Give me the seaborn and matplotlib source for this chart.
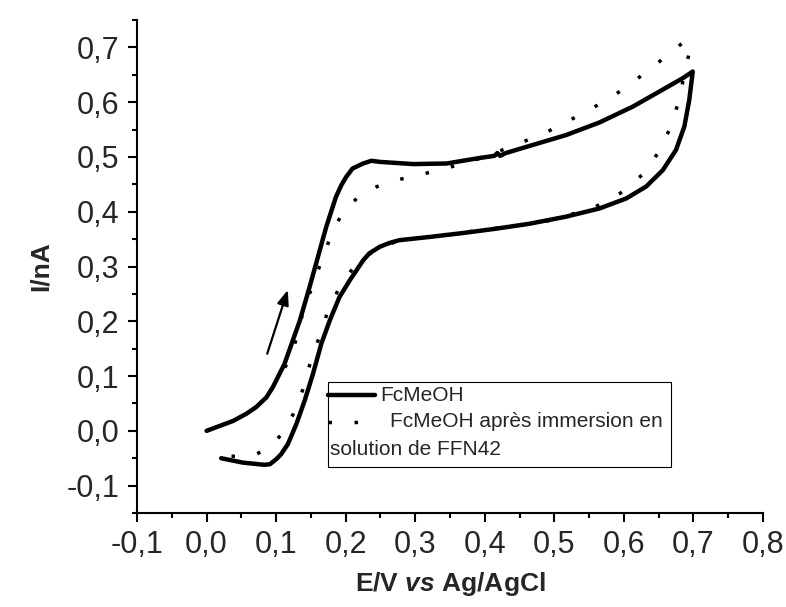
import matplotlib
matplotlib.use("Agg")
import matplotlib.pyplot as plt
import seaborn as sns
import pandas as pd
from matplotlib.patches import Rectangle
from matplotlib.ticker import FixedLocator, FuncFormatter

# FcMeOH, forward then reverse scan
solid_fwd_E = [0.000, 0.038, 0.057, 0.071, 0.086, 0.095, 0.112, 0.124, 0.134, 0.148, 0.160, 0.172, 0.186,
               0.194, 0.201, 0.210, 0.225, 0.237, 0.249, 0.297, 0.345, 0.392, 0.414, 0.418, 0.422, 0.430,
               0.464, 0.517, 0.565, 0.613, 0.656, 0.685, 0.699]
solid_fwd_I = [0.000, 0.018, 0.031, 0.043, 0.061, 0.079, 0.122, 0.165, 0.201, 0.262, 0.317, 0.372, 0.427,
               0.449, 0.464, 0.479, 0.488, 0.493, 0.491, 0.487, 0.488, 0.498, 0.502, 0.507, 0.502, 0.507,
               0.520, 0.540, 0.563, 0.592, 0.623, 0.644, 0.656]
solid_rev_E = [0.699, 0.694, 0.687, 0.675, 0.656, 0.632, 0.603, 0.565, 0.517, 0.464, 0.416, 0.368, 0.321,
               0.277, 0.263, 0.249, 0.234, 0.225, 0.206, 0.191, 0.177, 0.165, 0.153, 0.141, 0.129, 0.117,
               0.107, 0.100, 0.091, 0.083, 0.052, 0.021]
solid_rev_I = [0.656, 0.604, 0.556, 0.513, 0.476, 0.446, 0.424, 0.406, 0.391, 0.378, 0.369, 0.361, 0.354,
               0.348, 0.343, 0.336, 0.324, 0.311, 0.275, 0.244, 0.201, 0.159, 0.104, 0.055, 0.012, -0.024,
               -0.043, -0.052, -0.061, -0.062, -0.058, -0.050]

# FcMeOH après immersion, forward then reverse scan
dot_fwd_E = [0.000, 0.038, 0.071, 0.095, 0.117, 0.131, 0.139, 0.153, 0.166, 0.180, 0.197, 0.228, 0.267,
             0.305, 0.344, 0.400, 0.456, 0.493, 0.528, 0.563, 0.596, 0.628, 0.659, 0.690]
dot_fwd_I = [0.000, 0.018, 0.043, 0.079, 0.125, 0.174, 0.220, 0.267, 0.313, 0.360, 0.402, 0.438, 0.456,
             0.467, 0.479, 0.500, 0.528, 0.548, 0.571, 0.595, 0.621, 0.651, 0.682, 0.714]
dot_rev_E = [0.694, 0.686, 0.678, 0.666, 0.649, 0.627, 0.595, 0.559, 0.519, 0.481, 0.430, 0.380, 0.330,
             0.280, 0.249, 0.215, 0.191, 0.174, 0.162, 0.150, 0.138, 0.124, 0.106, 0.090, 0.071, 0.050, 0.031]
dot_rev_I = [0.691, 0.645, 0.598, 0.551, 0.507, 0.468, 0.434, 0.409, 0.393, 0.380, 0.372, 0.364, 0.356,
             0.348, 0.336, 0.305, 0.262, 0.217, 0.171, 0.128, 0.074, 0.029, -0.009, -0.030, -0.043, -0.047,
             -0.046]

x_ticks = [-0.1, 0.0, 0.1, 0.2, 0.3, 0.4, 0.5, 0.6, 0.7, 0.8]
y_ticks = [-0.1, 0.0, 0.1, 0.2, 0.3, 0.4, 0.5, 0.6, 0.7]
labels = ["FcMeOH", "FcMeOH après immersion en", "solution de FFN42"]

# scan direction arrow (tail, head)
arrow_tail = (0.086, 0.136)
arrow_head = (0.118, 0.262)

sns.set_style("ticks")
plt.rcParams['font.family'] = ['Liberation Sans', 'DejaVu Sans']
plt.rcParams['mathtext.fontset'] = 'custom'
plt.rcParams['mathtext.bfit'] = 'Liberation Sans:italic:bold'
plt.rcParams['mathtext.rm'] = 'Liberation Sans'

fig = plt.figure(figsize=(7.86, 6.07), dpi=100)
ax = fig.add_axes([137 / 786, 1 - 513 / 607, 626 / 786, 493 / 607])

solid = pd.DataFrame({"E": solid_fwd_E + solid_rev_E, "I": solid_fwd_I + solid_rev_I})
dotted = pd.DataFrame({"E": dot_fwd_E + dot_rev_E, "I": dot_fwd_I + dot_rev_I})

dot_style = (0, (1, 6.5))
sns.lineplot(data=solid, x="E", y="I", sort=False, estimator=None, color="black", lw=3.2, ax=ax)
sns.lineplot(data=dotted, x="E", y="I", sort=False, estimator=None, color="black", lw=2.5,
             linestyle=dot_style, dash_capstyle="butt", ax=ax)

ax.annotate("", xy=arrow_head, xytext=arrow_tail,
            arrowprops=dict(arrowstyle="-|>,head_length=0.9,head_width=0.35", color="black", lw=1.6))

ax.set_xlim(-0.1, 0.8)
ax.set_ylim(-0.15, 0.75)
ax.xaxis.set_major_locator(FixedLocator(x_ticks))
ax.yaxis.set_major_locator(FixedLocator(y_ticks))
ax.xaxis.set_minor_locator(FixedLocator([t + 0.05 for t in x_ticks[:-1]]))
ax.yaxis.set_minor_locator(FixedLocator([t - 0.05 for t in y_ticks] + [0.75]))
fmt = FuncFormatter(lambda v, p: f"{round(v, 1):.1f}".replace(".", ",").replace("-0,0", "0,0"))
ax.xaxis.set_major_formatter(fmt)
ax.yaxis.set_major_formatter(fmt)
ax.tick_params(which="major", length=6.5, width=1.5, labelsize=22, pad=6, color="black")
ax.tick_params(which="minor", length=3.5, width=1.5, color="black")
for s in ["left", "bottom"]:
    ax.spines[s].set_linewidth(1.5)
    ax.spines[s].set_color("black")
sns.despine(ax=ax)

ax.set_xlabel(r"E/V $\mathbfit{vs}$ Ag/AgCl", fontsize=19, fontweight="bold")
ax.set_ylabel("I/nA", fontsize=19, fontweight="bold")
ax.xaxis.set_label_coords(0.5, (513 - 584) / 493)
ax.xaxis.label.set_va("center")
ax.yaxis.set_label_coords((41 - 137) / 626, 0.5)
ax.yaxis.label.set_va("center")

# legend box drawn by hand (Origin style, text wraps under the symbol)
ax.add_patch(Rectangle((0.305, 0.093), 0.548, 0.173, transform=ax.transAxes,
                       fill=False, edgecolor="black", lw=0.8))
ax.plot([0.305, 0.380], [0.239, 0.239], transform=ax.transAxes, color="black", lw=3.2)
ax.plot([0.305, 0.380], [0.185, 0.185], transform=ax.transAxes, color="black", lw=2.5,
        linestyle=dot_style, dash_capstyle="butt")
ax.text(0.388, 0.239, labels[0], transform=ax.transAxes, fontsize=15, va="center")
ax.text(0.404, 0.185, labels[1], transform=ax.transAxes, fontsize=15, va="center")
ax.text(0.308, 0.128, labels[2], transform=ax.transAxes, fontsize=15, va="center")

fig.savefig("out.png", dpi=100)
plt.close(fig)
